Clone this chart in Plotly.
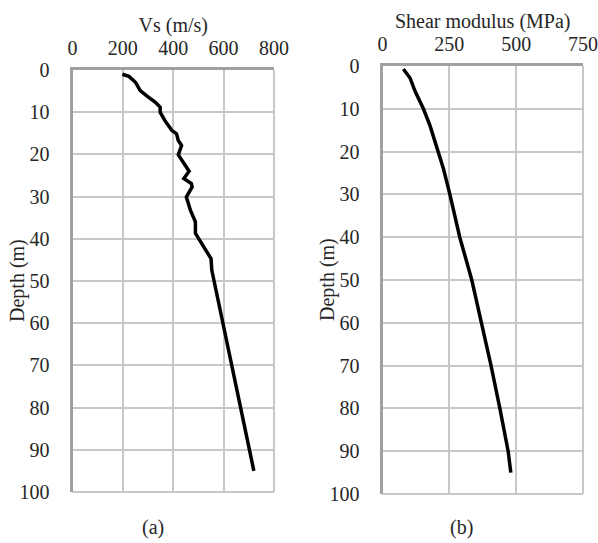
import plotly.graph_objects as go

# Vs profile (left panel)
vs_depth = [1, 1.5, 2.9, 4.9, 6.2, 7.6, 8.8, 10, 12, 14.3, 15.1, 16.7, 17.9, 20.1, 21.8,
            24, 25.7, 26.9, 27.7, 30.1, 33.2, 36, 38.7, 41.5, 44.7, 47.4, 95]
vs_vals = [198, 224, 250, 269, 296, 328, 348, 348, 367, 394, 413, 420, 433, 420, 439,
           463, 442, 472, 475, 452, 468, 488, 488, 516, 550, 553, 720]

# Shear modulus profile (right panel)
g_depth = [0.7, 2.8, 5.9, 10, 14, 20, 24, 30, 40, 50, 60, 70, 80, 90, 95]
g_vals = [78, 103, 122, 153, 178, 209, 228, 252, 289, 334, 371, 406, 439, 470, 480]

vs_ticks = [0, 200, 400, 600, 800]
g_ticks = [0, 250, 500, 750]
depth_ticks = list(range(0, 101, 10))

W, H = 598, 543
FONT = "Liberation Serif"
TXT = "#262626"
GRID = "#c8c8c8"
AXIS = "#a0a0a0"

fig = go.Figure()
fig.add_trace(go.Scatter(x=vs_vals, y=vs_depth, mode="lines",
                         line=dict(color="black", width=3.5), xaxis="x", yaxis="y",
                         showlegend=False))
fig.add_trace(go.Scatter(x=g_vals, y=g_depth, mode="lines",
                         line=dict(color="black", width=3.5), xaxis="x2", yaxis="y2",
                         showlegend=False))


def px_x(p):
    return p / W


def px_y(p):
    return 1 - p / H


def xax(**kw):
    d = dict(side="top", showgrid=True, gridcolor=GRID, gridwidth=2,
             showline=True, linecolor=AXIS, linewidth=3, zeroline=False,
             ticks="outside", ticklen=4, tickcolor="rgba(0,0,0,0)",
             tickfont=dict(family=FONT, size=20, color=TXT),
             title_font=dict(family=FONT, size=20, color=TXT), automargin=False)
    d.update(kw)
    return d


def yax(**kw):
    d = dict(showgrid=True, gridcolor=GRID, gridwidth=2,
             showline=True, linecolor=AXIS, linewidth=3, zeroline=False,
             ticks="outside", ticklen=16, tickcolor="rgba(0,0,0,0)",
             tickfont=dict(family=FONT, size=20, color=TXT), automargin=False,
             tickvals=depth_ticks, ticktext=[str(t) for t in depth_ticks])
    d.update(kw)
    return d


lx = [px_x(72.5), px_x(274)]
ly = [px_y(492), px_y(70)]
rx = [px_x(382.5), px_x(583)]
ry = [px_y(494), px_y(66)]

ann_font = dict(family=FONT, size=20, color=TXT)

fig.update_layout(
    template="none",
    width=W, height=H, autosize=False, margin=dict(l=0, r=0, t=0, b=0, pad=0),
    plot_bgcolor="white", paper_bgcolor="white",
    xaxis=xax(domain=lx, range=[0, 800],
              tickvals=vs_ticks, ticktext=[str(t) for t in vs_ticks],
              title=dict(text="Vs (m/s)", standoff=0), anchor="y"),
    yaxis=yax(domain=ly, range=[100, 0], anchor="x"),
    xaxis2=xax(domain=rx, range=[0, 750],
               tickvals=g_ticks, ticktext=[str(t) for t in g_ticks],
               title=dict(text="Shear modulus (MPa)", standoff=0), anchor="y2"),
    yaxis2=yax(domain=ry, range=[100, 0], anchor="x2"),
    shapes=[
        dict(type="line", xref="x domain", yref="y domain", x0=1, x1=1, y0=0, y1=1,
             line=dict(color=GRID, width=2), layer="below"),
        dict(type="line", xref="x domain", yref="y domain", x0=0, x1=1, y0=0, y1=0,
             line=dict(color=GRID, width=2), layer="below"),
        dict(type="line", xref="x2 domain", yref="y2 domain", x0=1, x1=1, y0=0, y1=1,
             line=dict(color=GRID, width=2), layer="below"),
        dict(type="line", xref="x2 domain", yref="y2 domain", x0=0, x1=1, y0=0, y1=0,
             line=dict(color=GRID, width=2), layer="below"),
    ],
    annotations=[
        dict(text="Depth (m)", textangle=-90, x=px_x(17), y=(ly[0] + ly[1]) / 2,
             xref="paper", yref="paper", xanchor="center", yanchor="middle",
             showarrow=False, font=ann_font),
        dict(text="Depth (m)", textangle=-90, x=px_x(327), y=(ry[0] + ry[1]) / 2,
             xref="paper", yref="paper", xanchor="center", yanchor="middle",
             showarrow=False, font=ann_font),
        dict(text="(a)", x=px_x(153), y=px_y(527), xref="paper", yref="paper",
             xanchor="center", yanchor="middle", showarrow=False, font=ann_font),
        dict(text="(b)", x=px_x(461), y=px_y(527), xref="paper", yref="paper",
             xanchor="center", yanchor="middle", showarrow=False, font=ann_font),
    ],
)

fig.write_html("out.html")
